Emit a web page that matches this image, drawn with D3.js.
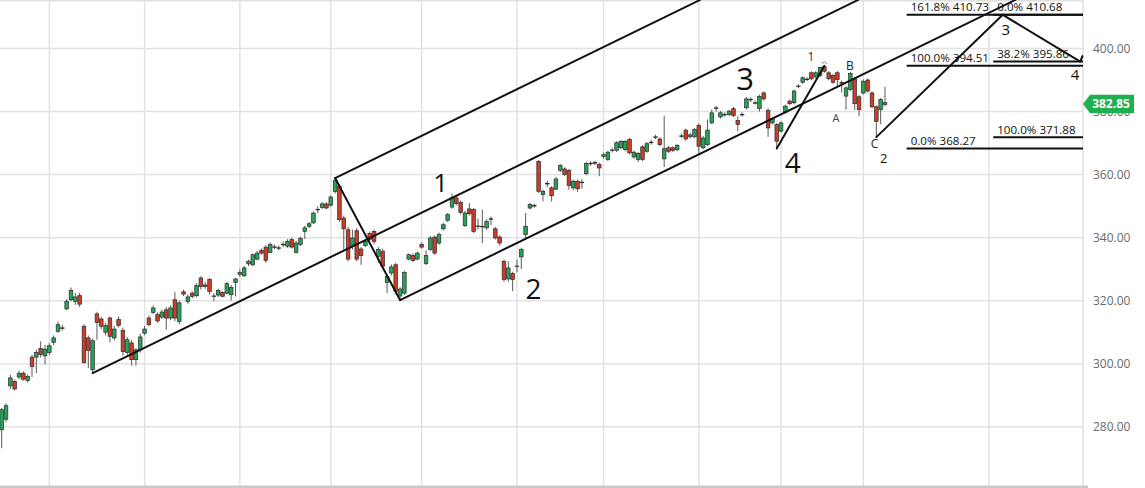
<!DOCTYPE html>
<html>
<head>
<meta charset="utf-8">
<script src="https://cdn.jsdelivr.net/npm/d3@7"></script>
<style>
  html, body { margin: 0; padding: 0; background: #ffffff; }
  svg { display: block; font-family: "Open Sans", "Noto Sans", sans-serif; }
</style>
</head>
<body>
<svg id="chart" width="1145" height="488"></svg>
<script>
// ---------------- DATA ----------------
const opens = [279.05,282.4,293.0,294.4,295.8,297.0,294.7,302.1,302.1,304.8,302.5,303.6,306.8,310.3,311.3,317.4,320.3,319.8,321.6,311.9,
308.2,298.1,315.8,314.2,310.0,314.5,308.2,314.0,310.5,303.6,306.6,301.3,304.4,309.7,314.5,316.3,315.6,314.8,317.1,314.5,
320.3,313.4,322.8,319.8,322.4,321.6,327.2,325.0,326.7,321.4,321.8,322.6,322.4,321.9,325.8,328.3,327.9,331.7,331.4,333.2,
336.0,337.0,335.3,337.0,336.7,337.8,337.3,339.4,335.3,337.8,342.0,343.6,344.7,348.9,349.6,350.7,350.3,354.7,356.3,346.2,
342.5,337.5,342.2,336.4,337.5,341.3,342.0,334.1,335.7,325.8,328.8,331.4,321.5,322.4,333.2,334.3,333.2,337.8,331.8,336.2,
340.2,338.3,342.8,345.5,349.7,352.6,351.2,343.8,349.1,348.9,343.6,343.5,343.1,345.9,342.8,340.2,332.5,326.9,328.6,330.9,
333.9,340.96,349.4,350.1,364.2,353.7,357.1,355.8,355.4,361.4,361.8,361.3,355.8,357.9,357.5,360.3,363.5,363.7,363.2,365.8,
364.8,367.7,367.7,368.5,367.9,371.1,365.6,364.8,368.8,367.4,370.2,371.9,371.3,365.0,368.5,368.5,367.9,372.2,374.1,372.0,
372.0,375.6,368.5,369.5,376.4,381.1,378.3,379.0,379.05,380.9,377.2,379.05,381.2,383.8,382.7,381.0,385.9,380.4,376.4,375.9,
373.8,379.8,383.3,382.8,388.0,389.3,390.2,392.3,391.0,391.4,394.2,392.3,391.4,392.3,389.1,384.9,387.0,390.4,384.7,385.9,
390.0,385.9,381.5,380.6,382.2];
const highs = [286.0,287.5,296.5,295.0,297.8,297.6,296.6,302.8,304.5,307.1,306.0,306.5,309.0,313.4,312.3,320.5,324.2,322.4,322.5,312.5,
309.0,308.0,316.5,315.0,313.0,315.0,312.0,315.0,311.5,308.5,307.5,305.0,309.5,312.0,315.3,318.5,316.3,317.2,318.0,318.5,
322.8,320.0,323.5,322.0,323.0,325.5,327.8,326.0,327.2,322.4,323.8,323.0,326.0,325.0,327.2,330.0,331.0,333.0,335.0,335.8,
336.6,337.6,338.5,337.8,337.5,338.8,339.5,340.0,339.0,340.3,343.8,345.0,348.3,350.0,351.3,351.2,353.4,358.9,357.0,347.0,
343.5,342.5,343.0,337.0,339.5,342.0,342.6,337.0,336.5,328.5,331.5,332.0,324.3,329.5,335.0,335.0,335.6,338.5,336.0,340.5,
340.6,341.6,344.7,347.8,354.0,353.5,351.8,348.5,351.0,349.4,346.0,348.9,345.8,346.7,343.4,340.7,333.0,332.5,329.2,333.0,
336.8,347.8,351.0,350.8,364.6,355.3,358.0,356.3,359.2,363.4,362.3,361.8,358.4,358.4,358.5,364.0,364.3,364.4,363.8,367.0,
367.6,368.5,370.6,371.0,371.0,371.6,367.6,367.2,369.3,370.3,371.0,372.6,371.8,378.7,369.0,369.0,369.7,373.0,374.6,373.3,
374.8,376.2,372.2,377.5,380.7,381.8,380.2,379.8,380.6,381.5,378.5,379.8,384.6,384.5,383.5,385.4,386.4,381.0,378.2,376.4,
376.9,382.2,383.8,387.0,388.7,391.2,390.9,392.8,392.8,394.2,394.51,392.8,391.9,392.8,389.8,388.0,392.6,391.0,385.2,390.2,
390.5,386.4,382.0,384.3,387.8];
const lows = [273.2,281.5,292.0,291.5,295.0,294.6,294.0,295.8,297.0,302.0,299.7,302.8,305.9,309.8,310.5,317.0,319.8,318.7,318.0,300.0,
298.6,297.05,307.6,311.0,309.0,306.8,307.5,311.5,302.5,302.8,299.4,299.4,303.5,309.0,311.8,315.8,313.0,314.2,310.8,313.8,
313.5,312.5,321.5,319.0,320.8,321.0,323.5,323.8,321.9,319.8,321.2,321.0,322.0,320.1,321.4,327.5,327.5,331.0,331.0,332.8,
334.6,332.0,335.0,336.3,336.0,337.0,336.8,336.5,335.0,337.3,339.6,343.0,344.3,347.8,349.0,349.0,349.8,354.0,345.0,336.2,
332.5,336.2,332.5,331.4,337.0,338.8,338.0,332.0,330.0,322.4,328.0,322.0,320.2,321.8,332.8,332.3,332.8,336.5,331.3,335.8,
334.6,337.7,342.3,345.0,349.2,350.2,347.4,343.3,347.0,341.5,342.5,338.3,342.5,344.0,339.4,337.5,326.0,326.0,323.0,329.0,
330.0,339.4,349.0,349.5,354.2,351.5,356.0,351.5,355.0,360.8,359.5,355.2,355.0,354.5,355.5,359.8,362.8,363.0,359.5,365.0,
364.3,367.0,367.2,368.0,367.4,366.4,365.0,364.0,364.3,366.9,369.5,371.3,369.0,362.4,366.9,367.2,367.4,371.6,370.8,371.5,
371.5,366.4,368.0,369.0,376.0,380.0,377.8,378.4,378.6,378.2,373.8,378.4,380.7,383.0,382.2,380.0,383.5,372.0,375.9,368.27,
373.3,379.3,382.0,382.3,387.4,388.8,389.6,389.9,390.5,390.9,392.3,389.9,388.8,388.0,386.0,380.6,386.5,380.5,378.5,385.4,
386.0,381.0,371.88,376.0,381.7];
const closes = [285.4,286.7,295.5,292.0,297.0,295.1,296.0,299.1,303.6,302.9,304.6,305.7,308.2,312.4,311.4,319.8,323.3,321.2,318.9,300.4,
304.2,307.3,313.1,311.9,312.1,308.7,311.0,312.2,303.9,307.6,301.3,304.4,308.5,311.0,312.4,317.7,313.6,316.4,314.5,317.7,
314.5,319.3,322.1,321.2,321.4,324.8,324.5,324.5,322.96,321.5,323.3,321.4,325.4,324.2,326.9,329.0,330.4,332.5,334.6,335.1,
335.1,332.8,337.8,337.1,336.8,337.9,338.8,337.0,338.3,339.8,343.1,344.4,347.8,349.0,350.7,349.4,352.9,358.2,345.7,342.8,
333.2,339.9,333.2,334.3,338.8,339.4,338.8,336.2,330.9,327.7,330.7,323.0,323.7,329.0,334.6,332.8,335.1,337.0,334.3,339.9,
335.1,341.0,344.1,347.3,352.6,350.8,348.0,347.8,347.6,342.0,343.7,343.6,345.2,346.0,339.9,338.3,326.7,330.4,326.7,331.0,
336.2,343.6,350.5,350.2,354.7,354.7,357.2,353.3,358.6,362.9,360.0,356.5,357.9,355.5,357.6,363.5,363.6,363.8,362.1,366.3,
367.1,367.8,370.1,370.5,370.5,366.9,367.1,366.7,364.8,369.8,370.3,372.0,369.5,368.2,367.4,367.7,369.2,372.3,371.3,372.6,
374.3,369.0,371.6,374.1,379.6,381.2,379.6,379.1,380.1,378.7,375.9,379.1,384.0,383.9,382.8,384.8,384.0,374.8,377.7,370.6,
376.4,381.7,382.5,386.5,388.1,390.7,390.3,390.4,392.3,394.0,392.8,390.4,389.3,390.2,389.2,387.5,392.1,382.5,380.6,389.6,
386.5,381.5,376.9,383.8,382.85];

const yTicks = [280, 300, 320, 340, 360, 380, 400];
const monthStartIdx = [11, 33, 55, 76, 97, 119, 139, 161, 180, 199, 228];
const lastPrice = 382.85;

// drawing anchors: [candle index, price]
const channelMiddle = [[21, 297.05], [197.8, 415.4]];
const channelUpper  = [[77, 358.9], [161.3, 415.4]];
const channelLower  = [[92, 320.2], [234.1, 415.4]];
const wave12Leg     = [[77, 358.9], [92, 320.2]];
const wave4to1Leg   = [[179, 368.27], [190, 394.51]];
const waveCto3Leg   = [[202, 371.88], [231.2, 410.68]];
const wave3to4Leg   = [[231.2, 410.68], [249.1, 395.86], [249.6, 397.6]];

// fibonacci tools
const fibAStart = 209, fibBStart = 229;
const fibALevels = [0.0, 100.0, 161.8];
const fibAPrices = [368.27, 394.51, 410.73];
const fibBLevels = [0.0, 38.2, 100.0];
const fibBPrices = [410.68, 395.86, 371.88];

// wave labels: text, candle index, price (baseline)
const bigLabelText  = ["1", "2", "3", "4"];
const bigLabelIdx   = [101.4, 122.8, 171.7, 182.7];
const bigLabelPrice = [354.5, 320.5, 386.8, 360.5];
const smallLabelText  = ["1", "A", "B", "C", "2", "3", "4"];
const smallLabelIdx   = [186.9, 192.7, 195.9, 201.6, 203.7, 231.9, 247.9];
const smallLabelPrice = [396.0, 376.7, 393.2, 368.4, 363.7, 404.3, 390.0];

// ---------------- CHART ----------------
const W = 1145, H = 488, plotRight = 1083;
const svg = d3.select("#chart");
const x = d3.scaleLinear().domain([0, 204]).range([1.7, 885]);
const y = d3.scaleLinear().domain([280, 400]).range([426.8, 48.5]);

// grid
const grid = svg.append("g");
grid.selectAll("line.h").data(yTicks).join("line")
  .attr("x1", 0).attr("x2", plotRight)
  .attr("y1", d => y(d)).attr("y2", d => y(d))
  .attr("stroke", "#e2e2e2").attr("stroke-width", 1.5);
grid.selectAll("line.v").data(monthStartIdx).join("line")
  .attr("x1", d => x(d)).attr("x2", d => x(d))
  .attr("y1", 0).attr("y2", 486)
  .attr("stroke", "#e2e2e2").attr("stroke-width", 1.5);
grid.append("line").attr("x1", 0).attr("x2", plotRight).attr("y1", 0.8).attr("y2", 0.8)
  .attr("stroke", "#e0e0e0").attr("stroke-width", 1.5);
grid.append("line").attr("x1", plotRight).attr("x2", plotRight).attr("y1", 0).attr("y2", 488)
  .attr("stroke", "#e0e0e0").attr("stroke-width", 1.5);
grid.append("rect").attr("x", 0).attr("y", 485.5).attr("width", 1088).attr("height", 2.5)
  .attr("fill", "#c9c9c9");

// candles
const candles = d3.range(opens.length).map(i => ({i, o: opens[i], h: highs[i], l: lows[i], c: closes[i]}));
const cg = svg.append("g");
cg.selectAll("line.wick").data(candles).join("line")
  .attr("x1", d => x(d.i)).attr("x2", d => x(d.i))
  .attr("y1", d => y(d.h)).attr("y2", d => y(d.l))
  .attr("stroke", "#5a5a5a").attr("stroke-width", 1);
const bw = 3.6;
cg.selectAll("rect.body").data(candles).join("rect")
  .attr("x", d => x(d.i) - bw / 2)
  .attr("y", d => y(Math.max(d.o, d.c)))
  .attr("width", bw)
  .attr("height", d => Math.max(0.6, Math.abs(y(d.o) - y(d.c))))
  .attr("fill", d => d.c >= d.o ? "#27a257" : "#cc3c27")
  .attr("stroke", "#2b2b2b").attr("stroke-width", 0.7);

// high marker (small red caret)
const peakI = 190;
svg.append("path")
  .attr("d", `M${x(peakI) - 2.5},${y(highs[peakI]) - 2} l2.5,-2 l2.5,2`)
  .attr("fill", "none").attr("stroke", "#e0604a").attr("stroke-width", 1);

// drawings
const line = d3.line().x(d => x(d[0])).y(d => y(d[1]));
const drawG = svg.append("g").attr("fill", "none").attr("stroke", "#111").attr("stroke-width", 2)
  .attr("stroke-linecap", "round").attr("stroke-linejoin", "round");
[channelMiddle, channelUpper, channelLower, wave12Leg, wave4to1Leg, waveCto3Leg, wave3to4Leg]
  .forEach(seg => drawG.append("path").attr("d", line(seg)));

// fib tools
const fibG = svg.append("g");
function drawFib(startIdx, levels, prices) {
  levels.forEach((lv, k) => {
    const yy = y(prices[k]);
    fibG.append("line").attr("x1", x(startIdx)).attr("x2", plotRight)
      .attr("y1", yy).attr("y2", yy).attr("stroke", "#111").attr("stroke-width", 2);
    fibG.append("text").attr("x", x(startIdx) + 4).attr("y", yy - 3.5)
      .attr("font-size", 11.6).attr("fill", "#111")
      .text(`${lv.toFixed(1)}% ${prices[k].toFixed(2)}`);
  });
}
drawFib(fibAStart, fibALevels, fibAPrices);
drawFib(fibBStart, fibBLevels, fibBPrices);

// wave labels
const bigSizes = [26, 28, 31, 28];
bigLabelText.forEach((t, k) => {
  svg.append("text").attr("x", x(bigLabelIdx[k])).attr("y", y(bigLabelPrice[k]))
    .attr("text-anchor", "middle").attr("font-size", bigSizes[k]).attr("fill", "#111").text(t);
});
const smallSizes = [12, 11, 12, 12, 13, 15, 15];
const smallColors = ["#333", "#444", "#222", "#222", "#111", "#111", "#111"];
smallLabelText.forEach((t, k) => {
  svg.append("text").attr("x", x(smallLabelIdx[k])).attr("y", y(smallLabelPrice[k]))
    .attr("text-anchor", "middle").attr("font-size", smallSizes[k]).attr("fill", smallColors[k]).text(t);
});

// y axis labels
svg.append("g").selectAll("text").data(yTicks).join("text")
  .attr("x", 1093).attr("y", d => y(d)).attr("dy", "0.36em")
  .attr("font-size", 12).attr("fill", "#6a6a6a")
  .text(d => d.toFixed(2));

// last price tag
const ty = y(lastPrice) + 1.5;
svg.append("path")
  .attr("d", `M${plotRight},${ty} L${plotRight + 7},${ty - 9.3} L1134,${ty - 9.3} L1134,${ty + 9.3} L${plotRight + 7},${ty + 9.3} Z`)
  .attr("fill", "#1eb04f");
svg.append("text").attr("x", 1111).attr("y", ty).attr("dy", "0.36em")
  .attr("text-anchor", "middle").attr("font-size", 12).attr("font-weight", "bold")
  .attr("fill", "#ffffff").text(lastPrice.toFixed(2));
</script>
</body>
</html>
